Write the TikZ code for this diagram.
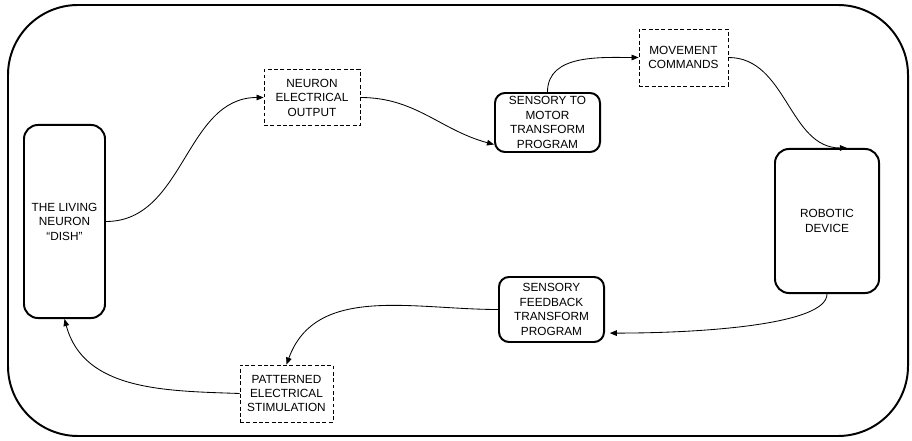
\documentclass[tikz,border=0pt]{standalone}
\usepackage{fontspec}
\setmainfont{Liberation Sans}
\usetikzlibrary{arrows.meta}

\begin{document}
\begin{tikzpicture}[x=0.025cm, y=0.025cm,
    every node/.style={font=\fontsize{8.4}{10.3}\selectfont, align=center, inner sep=1pt},
    solidbox/.style={draw, line width=1.4pt, rounded corners=0.25cm},
    dashbox/.style={draw, line width=0.6pt, dash pattern=on 2.8pt off 1.7pt},
    link/.style={line width=0.6pt, -{Triangle[length=5pt,width=4pt]}}]
  \useasboundingbox (0,0) rectangle (912,440);
  % outer frame
  \draw [line width=1.4pt, rounded corners=1.75cm] (8,4) rectangle (908,435);
  % blocks
  \node [solidbox, rounded corners=0.35cm, minimum width=2.025cm, minimum height=4.825cm] (dish) at (64.5,218.5) {THE LIVING\\NEURON\\“DISH”};
  \node [dashbox, minimum width=2.4cm, minimum height=1.4cm] (neo) at (312,342.5) {NEURON\\ELECTRICAL\\OUTPUT};
  \node [solidbox, minimum width=2.625cm, minimum height=1.475cm] (stm) at (547.5,317.5) {SENSORY TO\\MOTOR\\TRANSFORM\\PROGRAM};
  \node [dashbox, minimum width=2.225cm, minimum height=1.425cm] (mc) at (683.5,382.5) {MOVEMENT\\COMMANDS};
  \node [solidbox, rounded corners=0.35cm, minimum width=2.6cm, minimum height=3.6cm] (robot) at (827,219) {ROBOTIC\\DEVICE};
  \node [solidbox, minimum width=2.625cm, minimum height=1.625cm] (sft) at (551.5,130.5) {SENSORY\\FEEDBACK\\TRANSFORM\\PROGRAM};
  \node [dashbox, minimum width=2.325cm, minimum height=1.425cm] (pes) at (286.5,46.5) {PATTERNED\\ELECTRICAL\\STIMULATION};
  % loop
  \draw [link] (dish.east) to [out=0, in=180] (neo.west);
  \draw [link] (neo.east) to [out=0, in=165] ([yshift=-0.55cm]stm.west);
  \draw [link] (stm.north) to [out=90, in=180] (mc.west);
  \draw [link] (mc.east) to [out=0, in=180] ([xshift=0.5cm]robot.north);
  \draw [link, shorten >=0.12cm] (robot.south) to [out=-90, in=0, out looseness=0.35, in looseness=1.1] ([yshift=-0.59cm]sft.east);
  \draw [link] (sft.west) to [out=180, in=70] (pes.north);
  \draw [link] (pes.west) to [out=178, in=-75] (dish.south);
\end{tikzpicture}
\end{document}
